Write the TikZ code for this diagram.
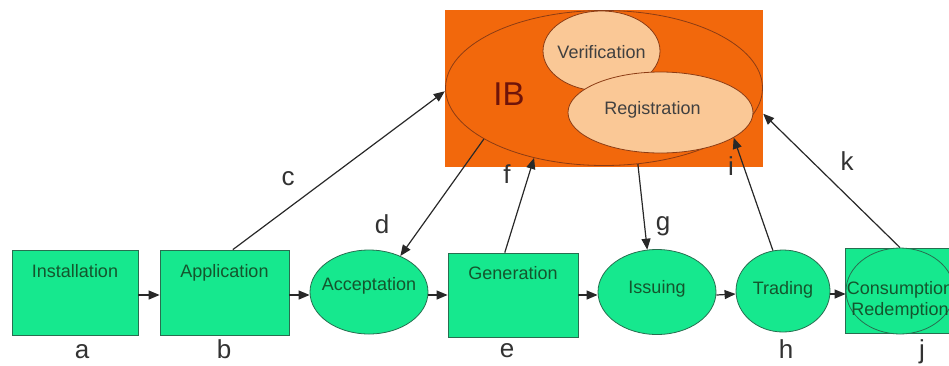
\documentclass[tikz,border=0pt]{standalone}
\usepackage{fontspec}
\setmainfont{Liberation Sans}
\usetikzlibrary{shapes.geometric,arrows.meta}
\definecolor{mint}{RGB}{22,232,142}
\definecolor{gborder}{RGB}{40,110,80}
\definecolor{gtext}{RGB}{20,85,45}
\definecolor{ibfill}{RGB}{242,104,12}
\definecolor{peach}{RGB}{250,200,150}
\definecolor{brownline}{RGB}{140,60,20}
\definecolor{ibtext}{RGB}{110,20,10}
\definecolor{arrowc}{RGB}{40,40,40}
\definecolor{lettc}{RGB}{50,50,50}
\begin{document}
\begin{tikzpicture}[x=1pt,y=-1pt,
  gbox/.style={draw=gborder, line width=0.8pt, fill=mint, rectangle, minimum height=85pt, inner sep=0pt},
  gell/.style={draw=gborder, line width=0.8pt, fill=mint, ellipse, inner sep=0pt},
  lbl/.style={font=\fontsize{18}{21}\selectfont, text=gtext, inner sep=0pt},
  lett/.style={font=\fontsize{26}{30}\selectfont, text=lettc, anchor=base, inner sep=0pt},
  arr/.style={draw=arrowc, line width=1.2pt, -{Triangle[length=11pt,width=9pt]}},
  peachell/.style={draw=brownline, line width=0.8pt, fill=peach, ellipse, inner sep=0pt},
  peachlbl/.style={font=\fontsize{18}{21}\selectfont, text=black!75, inner sep=0pt, anchor=base}
]
\useasboundingbox (0,0) rectangle (949,365);
\clip (0,0) rectangle (949,365);

% IB block
\node[rectangle, fill=ibfill, minimum width=318pt, minimum height=157pt, inner sep=0pt] (ibbox) at (604,88.5) {};
\node[ellipse, draw=brownline, line width=0.8pt, minimum width=317pt, minimum height=155pt, inner sep=0pt] (ib) at (604,88) {};
\node[font=\fontsize{33}{36}\selectfont, text=ibtext, anchor=base, inner sep=0pt] (ibl) at (509,105) {IB};
\node[peachell, minimum width=117pt, minimum height=80pt, label={[peachlbl, yshift=-1pt]center:Verification}] (ver) at (601.5,51) {};
\node[peachell, minimum width=185pt, minimum height=81pt, label={[peachlbl, xshift=-8pt, yshift=2.5pt]center:Registration}] (reg) at (660.5,112.5) {};

% bottom row
\node[gbox, minimum width=126pt, label={[lbl, anchor=base, yshift=-28pt]north:Installation}] (inst) at (75,292.5) {};
\node[gbox, minimum width=129pt, label={[lbl, anchor=base, yshift=-28pt]north:Application}] (app) at (224.5,292.5) {};
\node[gell, minimum width=118pt, minimum height=84pt, label={[lbl, anchor=base, yshift=6pt]center:Acceptation}] (acc) at (369,292) {};
\node[gbox, minimum width=130pt, minimum height=84pt, label={[lbl, anchor=base, yshift=-27pt]north:Generation}] (gen) at (513,295) {};
\node[gell, minimum width=118pt, minimum height=85pt, label={[lbl, anchor=base, yshift=3pt]center:Issuing}] (iss) at (657,292) {};
\node[gell, minimum width=94pt, minimum height=82pt, label={[lbl, anchor=base, yshift=1pt]center:Trading}] (tr) at (783,291) {};
\node[gbox, minimum width=110pt, minimum height=85pt] (consbox) at (900,290.5) {};
\node[gell, minimum width=108pt, minimum height=86pt, label={[lbl, align=center, anchor=center, yshift=-9pt]center:Consumption\\Redemption}] (cons) at (900,291) {};

% letters
\node[lett] (la) at (82,358) {a};
\node[lett] (lb) at (224,358) {b};
\node[lett] (le) at (507,357) {e};
\node[lett] (lh) at (786,358) {h};
\node[lett] (lj) at (922,358) {j};
\node[lett] (lc) at (288,185) {c};
\node[lett] (ld) at (382,233) {d};
\node[lett] (lf) at (507,183) {f};
\node[lett] (lg) at (663,230) {g};
\node[lett] (li) at (731,175) {i};
\node[lett] (lk) at (847,170) {k};

% horizontal flow
\draw[arr] ([yshift=-2.5pt]inst.east) -- ([yshift=-2.5pt]app.west);
\draw[arr] ([yshift=-2.5pt]app.east) -- ([yshift=-3pt]acc.west);
\draw[arr] ([yshift=-3pt]acc.east) -- (gen.west);
\draw[arr] (gen.east) -- ([yshift=-3pt]iss.west);
\draw[arr] ([yshift=-3pt]iss.east) -- ([yshift=-3pt]tr.west);
\draw[arr] ([yshift=-3pt]tr.east) -- ([yshift=-3pt]cons.west);

% links with IB
\draw[arr] (app.79) -- (ibbox.181);
\draw[arr] (ib.203) -- (acc.49);
\draw[arr] (gen.101) -- (ib.225);
\draw[arr] (ib.294) -- (iss.103);
\draw[arr] (tr.104) -- (reg.-19);
\draw[arr] (cons.north) -- (ibbox.-9);
\end{tikzpicture}
\end{document}
